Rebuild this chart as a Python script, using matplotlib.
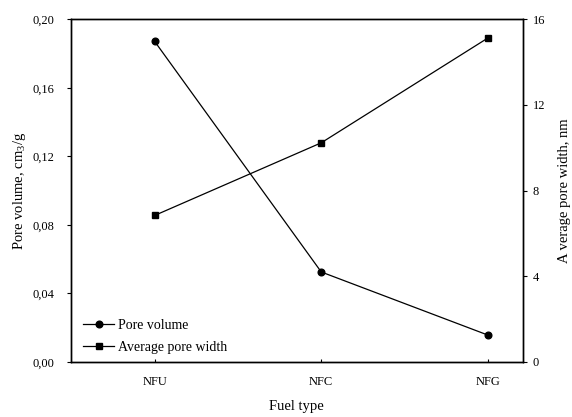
import matplotlib
matplotlib.use("Agg")
import matplotlib.pyplot as plt

# --- Data ---
fuel_types = ["NFU", "NFC", "NFG"]
pore_volume = [0.187, 0.0525, 0.0157]      # cm3/g
avg_pore_width = [6.84, 10.23, 15.12]       # nm

left_ticks = [0.00, 0.04, 0.08, 0.12, 0.16, 0.20]
right_ticks = [0, 4, 8, 12, 16]

plt.rcParams["font.family"] = ["Liberation Serif", "DejaVu Serif"]
plt.rcParams["mathtext.fontset"] = "custom"
plt.rcParams["mathtext.rm"] = "Liberation Serif"
plt.rcParams["font.size"] = 9

fig = plt.figure(figsize=(5.72, 4.17), dpi=100)
ax = fig.add_axes([0.124, 0.132, 0.790, 0.822])
ax2 = ax.twinx()

x = list(range(len(fuel_types)))
l1, = ax.plot(x, pore_volume, color="black", lw=0.9, marker="o", ms=4.8,
              label="Pore volume")
l2, = ax2.plot(x, avg_pore_width, color="black", lw=0.9, marker="s", ms=4.6,
               label="Average pore width")

ax.set_xlim(-0.503, 2.21)
ax.set_ylim(0, 0.2)
ax2.set_ylim(0, 16)

ax.set_xticks(x)
ax.set_xticklabels(fuel_types)
ax.set_yticks(left_ticks)
ax.set_yticklabels([f"{v:.2f}".replace(".", ",") for v in left_ticks])
ax2.set_yticks(right_ticks)

ax.tick_params(axis="x", direction="in", length=2, width=0.8, pad=10)
ax.tick_params(axis="y", direction="out", length=3, width=0.8, pad=9)
ax2.tick_params(axis="y", direction="out", length=3, width=0.8, pad=4)

for a in (ax, ax2):
    for s in a.spines.values():
        s.set_linewidth(1.0)

ax.set_xlabel("Fuel type", fontsize=10.5, labelpad=9)
ax.set_ylabel("Pore volume, cm$_\\mathrm{3}$/g", fontsize=10.5, labelpad=3)
ax2.set_ylabel("A verage pore width, nm", fontsize=10.5, labelpad=9)

ax.legend(handles=[l1, l2], loc="lower left", frameon=False, fontsize=10,
          handlelength=2.2, handletextpad=0.3, labelspacing=0.65,
          bbox_to_anchor=(0.0, -0.012))

fig.savefig("out.png", dpi=100)
